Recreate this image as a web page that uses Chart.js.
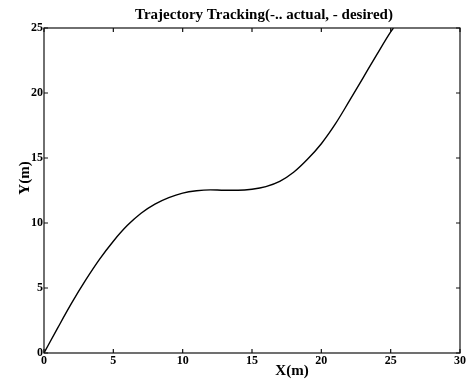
<!DOCTYPE html>
<html>
<head>
<meta charset="utf-8">
<script src="https://cdn.jsdelivr.net/npm/chart.js@4/dist/chart.umd.min.js"></script>
<style>
  html, body { margin: 0; padding: 0; background: #fff; }
  #wrap { width: 475px; height: 379px; }
</style>
</head>
<body>
<div id="wrap"><canvas id="chart" width="475" height="379"></canvas></div>
<script>
const xPos = [0, 1, 2, 3, 4, 5, 6, 7, 8, 9, 10, 11, 12, 13, 14, 15, 16, 17, 18, 19, 20, 21, 22, 23, 24, 25, 25.2];
const yPos = [0, 1.95, 3.85, 5.6, 7.2, 8.6, 9.8, 10.75, 11.45, 11.95, 12.3, 12.48, 12.55, 12.52, 12.52, 12.6, 12.8, 13.2, 13.9, 14.9, 16.1, 17.6, 19.35, 21.15, 22.95, 24.7, 25];
const xTicks = [0, 5, 10, 15, 20, 25, 30];
const yTicks = [0, 5, 10, 15, 20, 25];

const serif = '"Liberation Serif", "DejaVu Serif", serif';

// MATLAB-like box with inward ticks, title and axis labels
const framePlugin = {
    id: 'frame',
    afterDraw(chart) {
        const ctx = chart.ctx;
        const a = chart.chartArea;
        const xs = chart.scales.x, ys = chart.scales.y;
        ctx.save();
        ctx.strokeStyle = '#111';
        ctx.lineWidth = 1.2;
        ctx.strokeRect(a.left, a.top, a.right - a.left, a.bottom - a.top);
        ctx.beginPath();
        xTicks.forEach(v => {
            const px = xs.getPixelForValue(v);
            ctx.moveTo(px, a.bottom); ctx.lineTo(px, a.bottom - 4);
            ctx.moveTo(px, a.top); ctx.lineTo(px, a.top + 4);
        });
        yTicks.forEach(v => {
            const py = ys.getPixelForValue(v);
            ctx.moveTo(a.left, py); ctx.lineTo(a.left + 4, py);
            ctx.moveTo(a.right, py); ctx.lineTo(a.right - 4, py);
        });
        ctx.stroke();

        ctx.fillStyle = '#000';
        ctx.textAlign = 'center';
        ctx.textBaseline = 'middle';
        ctx.font = 'bold 15px ' + serif;
        ctx.fillText('Trajectory Tracking(-.. actual, - desired)', 264, 15);
        ctx.font = 'bold 15px ' + serif;
        ctx.fillText('X(m)', 292, 371);
        ctx.translate(25, 178);
        ctx.rotate(-Math.PI / 2);
        ctx.fillText('Y(m)', 0, 0);
        ctx.restore();
    }
};

new Chart(document.getElementById('chart'), {
    type: 'scatter',
    data: {
        datasets: [{
            label: 'trajectory',
            data: xPos.map((x, i) => ({ x: x, y: yPos[i] })),
            showLine: true,
            borderColor: '#000',
            borderWidth: 1.4,
            pointRadius: 0,
            cubicInterpolationMode: 'monotone',
            clip: 0
        }]
    },
    options: {
        responsive: false,
        animation: false,
        layout: { padding: { top: 28, right: 15, left: 0, bottom: 0 } },
        plugins: { legend: { display: false }, tooltip: { enabled: false } },
        scales: {
            x: {
                type: 'linear', min: 0, max: 30,
                afterFit: s => { s.height = 26; },
                afterBuildTicks: s => { s.ticks = xTicks.map(v => ({ value: v })); },
                grid: { display: false, drawTicks: false },
                border: { display: false },
                ticks: { color: '#000', padding: 1, font: { family: serif, size: 12, weight: 'bold' } }
            },
            y: {
                type: 'linear', min: 0, max: 25,
                afterFit: s => { s.width = 44; },
                afterBuildTicks: s => { s.ticks = yTicks.map(v => ({ value: v })); },
                grid: { display: false, drawTicks: false },
                border: { display: false },
                ticks: { color: '#000', padding: 1, font: { family: serif, size: 12, weight: 'bold' } }
            }
        }
    },
    plugins: [framePlugin]
});
</script>
</body>
</html>
